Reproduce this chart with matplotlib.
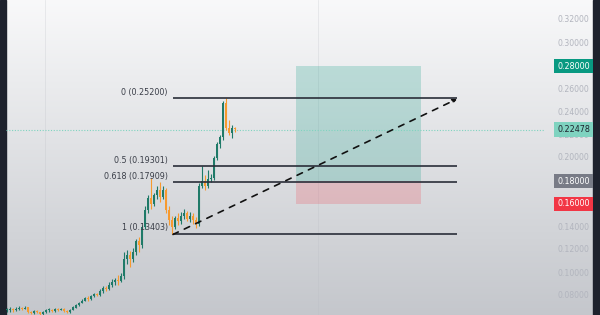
import numpy as np
import matplotlib
matplotlib.use("Agg")
import matplotlib.pyplot as plt
from matplotlib.patches import Rectangle
from matplotlib.transforms import blended_transform_factory

# ---- data ----
opens = [0.0675, 0.0680, 0.0690, 0.0680, 0.0690, 0.0700, 0.0690, 0.0700, 0.0660, 0.0650,
         0.0670, 0.0660, 0.0640, 0.0660, 0.0680, 0.0680, 0.0670, 0.0690, 0.0680, 0.0690,
         0.0670, 0.0660, 0.0680, 0.0700, 0.0720, 0.0740, 0.0760, 0.0780, 0.0770, 0.0800,
         0.0820, 0.0810, 0.0840, 0.0870, 0.0860, 0.0900, 0.0920, 0.0940, 0.0930, 0.0970,
         0.1120, 0.1160, 0.1120, 0.1180, 0.1280, 0.1240, 0.1400, 0.1550, 0.1650, 0.1600,
         0.1680, 0.1720, 0.1660, 0.1720, 0.1550, 0.1460, 0.1400, 0.1480, 0.1450, 0.1500,
         0.1520, 0.1470, 0.1500, 0.1460, 0.1430, 0.1760, 0.1800, 0.1760, 0.1820, 0.1830,
         0.2000, 0.2120, 0.2180, 0.2480, 0.2260, 0.2220, 0.2260]
closes = [0.0680, 0.0690, 0.0680, 0.0690, 0.0700, 0.0690, 0.0700, 0.0660, 0.0650, 0.0670,
          0.0660, 0.0640, 0.0660, 0.0680, 0.0680, 0.0670, 0.0690, 0.0680, 0.0690, 0.0670,
          0.0660, 0.0680, 0.0700, 0.0720, 0.0740, 0.0760, 0.0780, 0.0770, 0.0800, 0.0820,
          0.0810, 0.0840, 0.0870, 0.0860, 0.0900, 0.0920, 0.0940, 0.0930, 0.0970, 0.1120,
          0.1160, 0.1120, 0.1180, 0.1280, 0.1240, 0.1400, 0.1550, 0.1650, 0.1600, 0.1680,
          0.1720, 0.1660, 0.1720, 0.1550, 0.1460, 0.1400, 0.1480, 0.1450, 0.1500, 0.1520,
          0.1470, 0.1500, 0.1460, 0.1430, 0.1760, 0.1800, 0.1760, 0.1820, 0.1830, 0.2000,
          0.2120, 0.2180, 0.2480, 0.2260, 0.2220, 0.2260, 0.2248]
highs = [0.0700, 0.0705, 0.0700, 0.0705, 0.0715, 0.0705, 0.0715, 0.0705, 0.0670, 0.0680,
         0.0680, 0.0665, 0.0670, 0.0690, 0.0695, 0.0690, 0.0700, 0.0700, 0.0700, 0.0700,
         0.0680, 0.0690, 0.0710, 0.0730, 0.0750, 0.0775, 0.0795, 0.0800, 0.0810, 0.0830,
         0.0830, 0.0860, 0.0890, 0.0885, 0.0920, 0.0950, 0.0960, 0.0980, 0.1000, 0.1180,
         0.1200, 0.1190, 0.1220, 0.1300, 0.1310, 0.1420, 0.1580, 0.1680, 0.1830, 0.1700,
         0.1760, 0.1790, 0.1760, 0.1740, 0.1580, 0.1500, 0.1500, 0.1520, 0.1530, 0.1560,
         0.1540, 0.1530, 0.1520, 0.1490, 0.1780, 0.1930, 0.1850, 0.1900, 0.1860, 0.2020,
         0.2140, 0.2200, 0.2500, 0.2520, 0.2330, 0.2290, 0.2270]
lows = [0.0660, 0.0665, 0.0665, 0.0670, 0.0680, 0.0680, 0.0685, 0.0650, 0.0640, 0.0645,
        0.0650, 0.0635, 0.0635, 0.0650, 0.0665, 0.0660, 0.0665, 0.0670, 0.0675, 0.0660,
        0.0650, 0.0655, 0.0675, 0.0695, 0.0715, 0.0735, 0.0755, 0.0760, 0.0765, 0.0790,
        0.0800, 0.0800, 0.0830, 0.0840, 0.0850, 0.0880, 0.0900, 0.0900, 0.0920, 0.0950,
        0.1080, 0.1050, 0.1100, 0.1160, 0.1180, 0.1220, 0.1380, 0.1520, 0.1560, 0.1580,
        0.1640, 0.1620, 0.1640, 0.1520, 0.1420, 0.1340, 0.1380, 0.1420, 0.1430, 0.1470,
        0.1450, 0.1440, 0.1430, 0.1390, 0.1410, 0.1740, 0.1720, 0.1740, 0.1790, 0.1810,
        0.1980, 0.2090, 0.2160, 0.2240, 0.2200, 0.2170, 0.2230]

fib_ratios = [0, 0.5, 0.618, 1]
fib_values = [0.25200, 0.19301, 0.17909, 0.13403]
target_price = 0.28
entry_price = 0.18
stop_price = 0.16
last_price = 0.22478
tick_values = [0.32, 0.30, 0.28, 0.26, 0.24, 0.22, 0.20, 0.18, 0.16, 0.14, 0.12, 0.10, 0.08]

# ---- figure ----
W, H = 600, 315
fig = plt.figure(figsize=(6, 3.15), dpi=100)

# gradient background
bg = fig.add_axes([0, 0, 1, 1], zorder=-10)
grad = np.linspace(0, 1, 256)[:, None]
top = np.array([0.975, 0.976, 0.98])
bot = np.array([0.77, 0.78, 0.80])
img = top[None, None, :] * (1 - grad[:, :, None]) + bot[None, None, :] * grad[:, :, None]
bg.imshow(img, aspect='auto', extent=[0, 1, 0, 1], origin='upper')
bg.add_patch(Rectangle((0, 0), 6 / W, 1, color='#1e222d', transform=bg.transAxes))
bg.add_patch(Rectangle((593 / W, 0), 7 / W, 1, color='#1e222d', transform=bg.transAxes))
bg.set_xlim(0, 1); bg.set_ylim(0, 1)
bg.axis('off')

ax = fig.add_axes([6 / W, 0, (545 - 6) / W, 1])
ax.patch.set_alpha(0)
for s in ax.spines.values():
    s.set_visible(False)
ax.set_xticks([]); ax.set_yticks([])

px0 = 7.0; step = 3.0
def xi(px):
    return (px - px0) / step

ax.set_xlim(xi(6), xi(545))
ax.set_ylim(0.32 - 295 / 1150, 0.32 + 20 / 1150)

# faint vertical grid
for gx in [45, 318]:
    ax.axvline(xi(gx), color='#b8bbc2', lw=0.5, alpha=0.35, zorder=0)

# candles
up_c = '#1f7a68'; dn_c = '#f79a2e'
for i, (o, h, l, c) in enumerate(zip(opens, highs, lows, closes)):
    col = up_c if c >= o else dn_c
    ax.vlines(i, l, h, color=col, lw=0.8, zorder=3)
    b0 = min(o, c); bh = max(abs(c - o), 0.0009)
    ax.add_patch(Rectangle((i - 0.38, b0), 0.76, bh, facecolor=col, edgecolor='none', zorder=4))

# long position boxes
rx0, rx1 = xi(296), xi(421)
ax.add_patch(Rectangle((rx0, entry_price), rx1 - rx0, target_price - entry_price,
                       facecolor='#089981', alpha=0.22, edgecolor='none', zorder=1))
ax.add_patch(Rectangle((rx0, stop_price), rx1 - rx0, entry_price - stop_price,
                       facecolor='#f23645', alpha=0.2, edgecolor='none', zorder=1))

# fib lines
fx0, fx1 = xi(173), xi(457)
for r, v in zip(fib_ratios, fib_values):
    ax.hlines(v, fx0, fx1, color='#2a2e39', lw=1.2, zorder=5)
    ax.text(xi(168), v + 0.0012, f"{r} ({v:.5f})", ha='right', va='bottom',
            fontsize=5.8, color='#3a3e48', zorder=6)

# dashed arrow
ax.annotate('', xy=(xi(457), 0.2513), xytext=(xi(173), 0.1335),
            arrowprops=dict(arrowstyle='-|>', color='#111111', lw=1.2,
                            linestyle=(0, (3.5, 4)), mutation_scale=6, shrinkA=0, shrinkB=0),
            zorder=7)

# last price dotted line
ax.axhline(last_price, color='#7fd3c0', lw=0.8, ls=(0, (1, 1.5)), zorder=2)

# price scale
tr = blended_transform_factory(fig.transFigure, ax.transData)
lx = 573.5 / W
for v in tick_values:
    ax.text(lx, v, f"{v:.5f}", transform=tr, ha='center', va='center',
            fontsize=5.6, color='#b2b5be', clip_on=False)

def tag(v, fc, tc):
    ax.text(lx, v, f"{v:.5f}", transform=tr, ha='center', va='center',
            fontsize=5.8, color=tc, clip_on=False, zorder=10,
            bbox=dict(boxstyle='square,pad=0.35', fc=fc, ec='none'))

tag(target_price, '#089981', 'white')
tag(last_price, '#7fd3c0', '#1e222d')
tag(entry_price, '#787b86', 'white')
tag(stop_price, '#f23645', 'white')

fig.savefig('out.png', dpi=100)
